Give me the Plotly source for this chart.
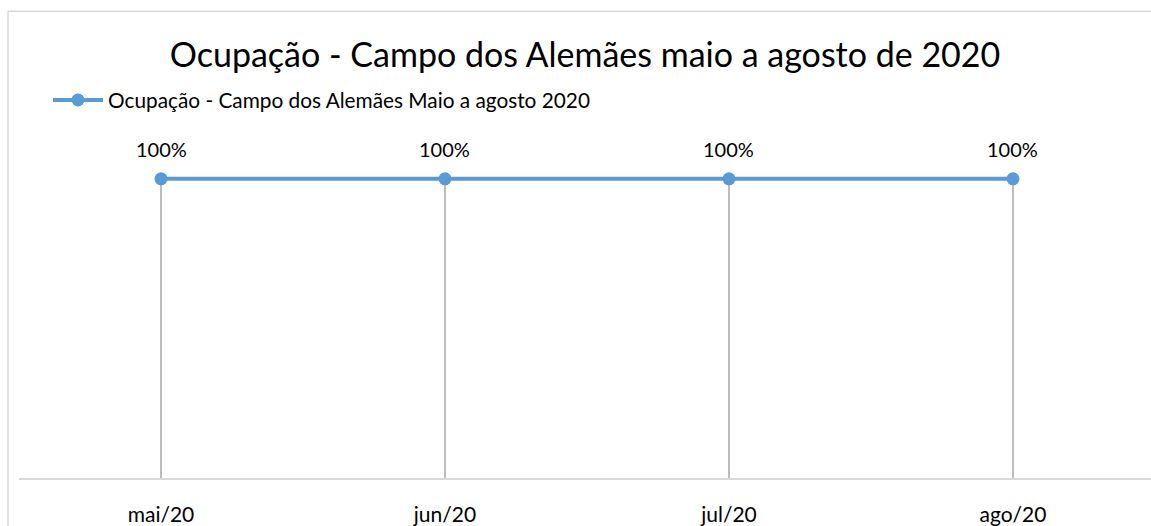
import plotly.graph_objects as go

categories = ["mai/20", "jun/20", "jul/20", "ago/20"]
values = [1.0, 1.0, 1.0, 1.0]
series_name = "Ocupação - Campo dos Alemães Maio a agosto 2020"
title_text = "Ocupação - Campo dos Alemães maio a agosto de 2020"

FONT = "Lato"
BLUE = "#5b9bd5"

idx = list(range(len(categories)))

# drop lines built from data
dx, dy = [], []
for i, v in zip(idx, values):
    dx += [i, i, None]
    dy += [0, v, None]

fig = go.Figure()
fig.add_trace(go.Scatter(x=dx, y=dy, mode="lines", line=dict(color="#a6a6a6", width=1.5),
                         showlegend=False, hoverinfo="skip"))
fig.add_trace(go.Scatter(x=idx, y=values, mode="lines+markers", name=series_name,
                         line=dict(color=BLUE, width=4),
                         marker=dict(color=BLUE, size=13)))

for i, v in zip(idx, values):
    fig.add_annotation(x=i, y=v, text=f"{v:.0%}", showarrow=False, yshift=30,
                       font=dict(family=FONT, size=20, color="#000000"))

# chart frame (left and top edges visible; right/bottom fall outside the picture)
frame_x0, frame_y1 = -0.0097, 1.3
fig.add_shape(type="line", xref="paper", yref="paper", x0=frame_x0, x1=1.1, y0=frame_y1, y1=frame_y1,
              line=dict(color="#d9d9d9", width=1.5), layer="below")
fig.add_shape(type="line", xref="paper", yref="paper", x0=frame_x0, x1=frame_x0, y0=-0.3, y1=frame_y1,
              line=dict(color="#d9d9d9", width=1.5), layer="below")

fig.update_layout(
    width=1151, height=526,
    margin=dict(l=19, r=0, t=119, b=41),
    paper_bgcolor="white", plot_bgcolor="white",
    title=dict(text=title_text, x=0.5, xref="paper", xanchor="center",
               y=(526 - 55) / 526, yanchor="middle", yref="container",
               font=dict(family=FONT, size=34, color="#000000")),
    legend=dict(x=(48 - 19) / 1132, xanchor="left", y=(485 - 100) / 366, yanchor="middle",
                orientation="h", font=dict(family=FONT, size=20.8, color="#000000"),
                bgcolor="rgba(0,0,0,0)", itemwidth=50),
    xaxis=dict(range=[-0.5, 3.486], tickmode="array", tickvals=idx, ticktext=categories,
               showgrid=False, zeroline=False, showline=True, linecolor="#d9d9d9", linewidth=1.5,
               ticks="", ticklabelstandoff=17,
               tickfont=dict(family=FONT, size=21, color="#000000")),
    yaxis=dict(range=[0, 1.2], visible=False, showgrid=False, zeroline=False),
    showlegend=True,
)

fig.write_html("out.html", config={"displayModeBar": False},
               post_script="document.body.style.margin='0';document.body.style.overflow='hidden';")
